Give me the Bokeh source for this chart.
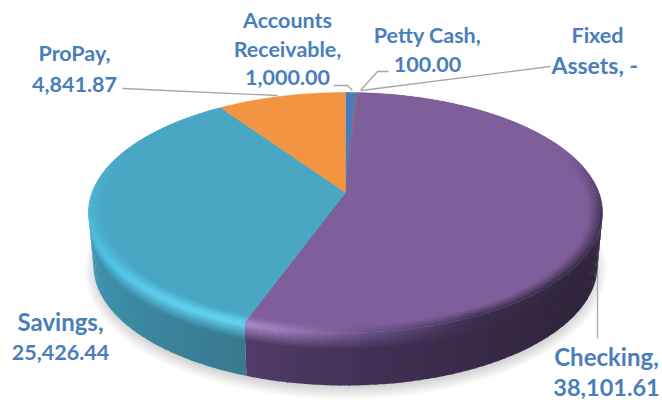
import numpy as np
from bokeh.plotting import figure
from bokeh.models import Range1d
from bokeh.core.properties import value
from bokeh.embed import file_html
from bokeh.resources import INLINE

# ---- data
accounts = ["Accounts Receivable", "Petty Cash", "Fixed Assets", "Checking", "Savings", "ProPay"]
balances = [1000.00, 100.00, 0.00, 38101.61, 25426.44, 4841.87]
label_lines = [["Accounts", "Receivable,"], ["Petty Cash,"], ["Fixed", "Assets,"], ["Checking,"], ["Savings,"], ["ProPay,"]]

# ---- styles
face = ["#4A7EBB", "#BE4B48", "#98B954", "#7E5F9C", "#49A7C4", "#F29442"]
TXT = "#4A7EBB"
FONT = "Lato"
FS = 21.5
CX, CY, APEX_Y, RX, RY, DEPTH, TAPER = 345, 212, 192, 257, 120, 53, 5

# perspective calibration: flat angle -> apparent angle on the tilted disc
flat_deg = [0, 5.7, 6.2, 203.2, 335, 360]
seen_deg = [0, 2.7, 3.3, 203.2, 331, 360]


def hex2rgb(h):
    return np.array([int(h[i:i + 2], 16) for i in (1, 3, 5)], float)


def rgb2hex(c):
    return "#%02X%02X%02X" % tuple(int(round(v)) for v in np.clip(c, 0, 255))


def mix(a, b, f):
    return a + (b - a) * f


def rim(phi, t=0.0):
    r = np.radians(phi)
    rx = RX - TAPER * t / DEPTH
    return CX + rx * np.sin(r), CY - RY * np.cos(r) + t


def ring(phi, s):
    x, y = rim(phi)
    return CX + s * (x - CX), APEX_Y + s * (y - APEX_Y)


def band_colors(i, phi):
    """(bevel highlight, wall) colour for slice i at apparent angle phi"""
    if i == 3:
        kn = [0, 60, 90, 120, 150, 175, 195, 204]
        br = ["#7E5F9C", "#7E5F9C", "#3D3050", "#32283F", "#3E3050", "#6A5288", "#A080C0", "#AC8FCB"]
        wkn = [90, 130, 170, 204]
        wl = ["#2E2438", "#32263F", "#3F2F52", "#523C6A"]
    elif i == 4:
        kn = [203, 225, 250, 270, 300, 335]
        br = ["#66D8F6", "#60D4F4", "#50C4E4", "#4ABAD9", "#49A7C4", "#49A7C4"]
        wkn = [203, 230, 270]
        wl = ["#38798F", "#3B86A0", "#3F98B3"]
    else:
        c = hex2rgb(face[i])
        return c, c
    b = np.array([np.interp(phi, kn, [hex2rgb(h)[k] for h in br]) for k in range(3)])
    w = np.array([np.interp(phi, wkn, [hex2rgb(h)[k] for h in wl]) for k in range(3)])
    return b, w


# ---- slice spans from the values
total = sum(balances)
edges = np.cumsum([0] + balances) / total * 360.0
edges = np.interp(edges, flat_deg, seen_deg)

p = figure(width=662, height=400, x_range=Range1d(0, 662), y_range=Range1d(400, 0),
           output_backend="svg", toolbar_location=None, min_border=0,
           outline_line_color=None, background_fill_color="white", border_fill_color="white")
p.axis.visible = False
p.grid.visible = False

# soft shadow
for k in range(9):
    p.ellipse(x=[CX], y=[CY + DEPTH + 5], width=[2 * (RX - TAPER + 9 - k * 1.6)], height=[2 * (RY + 9 - k * 1.6)],
              fill_color="#555555", fill_alpha=0.028, line_color=None)

# leader lines under the pie
p.line([597, 597], [262, 338], line_color="#A6A6A6", line_width=1.3)

# wall: columns overlap the next one, shade bands overlap the next one
t_steps = [0, 2, 4, 6, 8, 10, 12, 14, 16]
for i in range(len(balances)):
    a = max(edges[i], 90.0)
    b = min(edges[i + 1], 270.0)
    if b <= a:
        continue
    n = max(int((b - a) / 2.0), 1)
    phis = np.linspace(a, b, n + 1)
    xs, ys, cs = [], [], []
    for j in range(n):
        mid = (phis[j] + phis[j + 1]) / 2
        br, wl = band_colors(i, mid)
        hi = min(phis[j + 1] + 0.5, b)
        seg = np.linspace(phis[j], hi, 3)
        for k, t0 in enumerate(t_steps):
            t1 = t_steps[k + 1] + 1.5 if k + 1 < len(t_steps) else DEPTH
            xa, ya = rim(seg, t0)
            xb, yb = rim(seg[::-1], t1)
            xs.append(np.r_[xa, xb].tolist())
            ys.append(np.r_[ya, yb].tolist())
            cs.append(rgb2hex(mix(br, wl, t0 / 16.0)))
    p.patches(xs, ys, fill_color=cs, line_color=None)

# top face
for i in range(len(balances)):
    if edges[i + 1] <= edges[i]:
        continue
    phis = np.linspace(edges[i], edges[i + 1], max(int(edges[i + 1] - edges[i]) * 2, 2))
    x, y = rim(phis)
    p.patch(np.r_[CX, x], np.r_[APEX_Y, y], fill_color=face[i], line_color=face[i], line_width=0.5)

# bevel
s_steps = [0.945, 0.955, 0.965, 0.975, 0.985, 0.993, 1.0]
for i in range(len(balances)):
    a, b = edges[i], edges[i + 1]
    if b <= a or i in (0, 1, 2, 5):
        continue
    n = max(int((b - a) / 2.0), 1)
    phis = np.linspace(a, b, n + 1)
    base = hex2rgb(face[i])
    xs, ys, cs = [], [], []
    for j in range(n):
        mid = (phis[j] + phis[j + 1]) / 2
        br, _ = band_colors(i, mid)
        hi = min(phis[j + 1] + 0.5, b)
        seg = np.linspace(phis[j], hi, 3)
        for k in range(len(s_steps) - 1):
            f = (k + 0.5) / (len(s_steps) - 1)
            xa, ya = ring(seg, s_steps[k])
            xb, yb = ring(seg[::-1], min(s_steps[k + 1] + 0.004, 1.0))
            xs.append(np.r_[xa, xb].tolist())
            ys.append(np.r_[ya, yb].tolist())
            cs.append(rgb2hex(mix(base, br, f)))
    p.patches(xs, ys, fill_color=cs, line_color=None)

# other leader lines
lead_x = [[122, 277], [333, 347, 352], [388, 377, 360], [550, 361]]
lead_y = [[88, 95], [85, 85, 90], [71, 71, 90], [66, 90]]
p.multi_line(lead_x, lead_y, line_color="#A6A6A6", line_width=1.3)

# labels
val_txt = [f"{v:,.2f}" if v else "-" for v in balances]
label_x = [287, 427, 597, 606, 60, 74]
label_y = [[19, 48, 77], [34, 64], [34, 64], [356, 387], [321, 352], [52, 84]]
size_of = {"Savings,": 24, "Checking,": 24, "38,101.61": 23.5, "Assets,  -": 23}
tx, ty, tt, ts = [], [], [], []
for i in range(len(accounts)):
    lines = list(label_lines[i])
    if val_txt[i] == "-":
        lines[-1] = lines[-1] + "  -"
    else:
        lines.append(val_txt[i])
    for ln, yy in zip(lines, label_y[i]):
        tx.append(label_x[i])
        ty.append(yy)
        tt.append(ln)
        ts.append(f"{size_of.get(ln, FS)}px")
p.text(x=tx, y=ty, text=tt, text_color=TXT, text_font=value(FONT), text_font_style="bold",
       text_font_size=ts, text_align="center", text_baseline="middle")

open("out.html", "w").write(file_html(p, INLINE))
